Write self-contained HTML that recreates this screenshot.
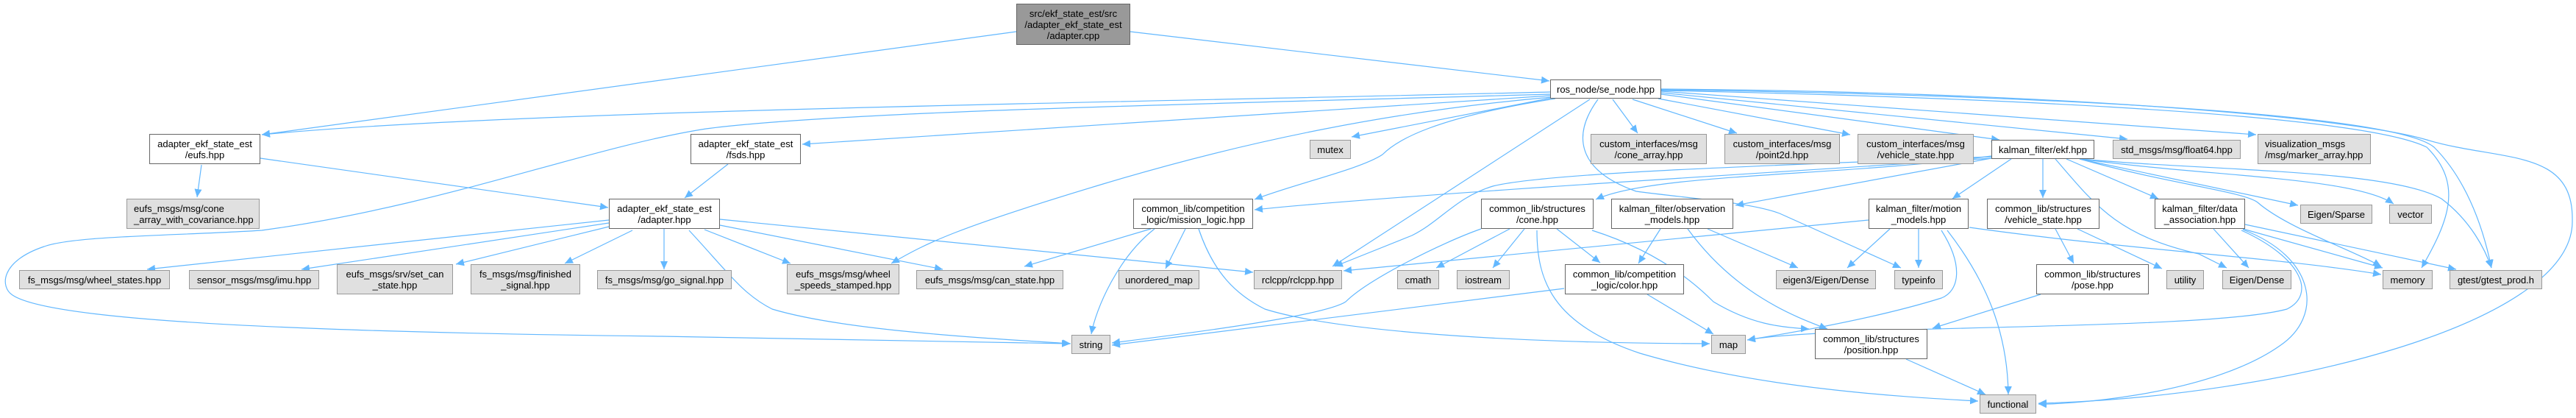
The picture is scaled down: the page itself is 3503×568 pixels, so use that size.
<!DOCTYPE html>
<html><head><meta charset="utf-8"><style>
body{margin:0;width:3503px;height:568px;background:#fff;position:relative;overflow:hidden;font-family:"Liberation Sans",sans-serif;}
.n{position:absolute;box-sizing:border-box;border:1px solid #999;background:#e0e0e0;font-size:13px;line-height:15px;color:#000;display:flex;flex-direction:column;justify-content:center;align-items:center;text-align:center;white-space:nowrap;}
.w{background:#fff;border-color:#666;}
.l{align-items:flex-start;padding-left:9px;text-align:left;}
svg{position:absolute;left:0;top:0;}
</style></head><body>
<svg width="3503" height="568" viewBox="0 0 3503 568">
<defs><marker id="a" markerUnits="userSpaceOnUse" markerWidth="12" markerHeight="10" refX="11" refY="5" orient="auto"><path d="M0,0 L11,5 L0,10 z" fill="#63b8ff"/></marker></defs>
<g fill="none" stroke="#63b8ff" stroke-width="1.2" marker-end="url(#a)">
<path d="M1382,43 L356,183"/>
<path d="M1537,43 L2107,110"/>
<path d="M2108,125 C1500,140 700,150 356,183"/>
<path d="M2108,128 C1700,140 1150,150 960,175 C800,200 600,280 356,313 C250,320 100,320 60,335 C0,355 0,390 17,401 C60,430 300,450 900,457 L1455,467"/>
<path d="M2108,130 L1091,196"/>
<path d="M2110,132 C1900,150 1700,190 1500,250 S1260,330 1212,358"/>
<path d="M2110,133 L1838,186"/>
<path d="M2115,134 C1950,160 1900,190 1880,210 C1850,230 1760,250 1706,271"/>
<path d="M2162,135 L1812,362"/>
<path d="M2193,135 L2227,181"/>
<path d="M2220,135 L2362,181"/>
<path d="M2255,134 L2516,183"/>
<path d="M2259,128 L2719,190"/>
<path d="M2259,126 L2893,189"/>
<path d="M2259,124 L3068,183"/>
<path d="M2173,135 C2140,180 2140,230 2225,260 C2300,270 2380,275 2420,290 L2585,364"/>
<path d="M2259,123 C2600,130 3200,150 3300,200 C3350,250 3330,300 3293,364"/>
<path d="M2259,122 C2700,128 3250,150 3310,200 C3350,240 3375,300 3388,364"/>
<path d="M2259,121 C2800,125 3200,160 3300,190 C3400,220 3500,200 3498,300 C3500,440 3100,540 2772,548"/>
<path d="M2708,215 C2400,235 1900,265 1706,285"/>
<path d="M2708,212 C2500,240 2250,235 2170,271"/>
<path d="M2708,213 C2400,225 2100,235 2030,253 C1980,268 1960,300 1920,320 L1815,362"/>
<path d="M2708,215 L2360,279"/>
<path d="M2735,216 L2655,270"/>
<path d="M2778,216 L2778,269"/>
<path d="M2795,216 C2850,280 2880,320 2990,345 L3028,364"/>
<path d="M2810,216 L2935,270"/>
<path d="M2828,216 L3125,279"/>
<path d="M2830,216 C3000,240 3200,240 3255,277"/>
<path d="M2830,216 C3000,232 3250,230 3320,270 C3360,300 3380,340 3388,364"/>
<path d="M2828,216 C2950,250 3050,260 3070,275 C3110,310 3200,340 3238,362"/>
<path d="M2541,299 L1827,368"/>
<path d="M2570,311 L2512,364"/>
<path d="M2609,311 L2609,364"/>
<path d="M2640,313 C2670,360 2665,395 2640,405 C2560,430 2450,450 2376,462"/>
<path d="M2648,313 C2700,380 2730,450 2731,536"/>
<path d="M2678,309 C2900,340 3100,350 3238,373"/>
<path d="M3010,311 L3058,364"/>
<path d="M3050,311 L3240,364"/>
<path d="M3053,305 L3340,366"/>
<path d="M3050,312 C3150,350 3160,430 3100,470 C3000,540 2800,550 2772,549"/>
<path d="M3048,313 C3130,350 3150,400 3110,420 C3000,450 2500,440 2376,462"/>
<path d="M2795,311 L2820,358"/>
<path d="M2825,311 L2940,365"/>
<path d="M2775,400 L2628,446"/>
<path d="M2592,488 L2700,536"/>
<path d="M2258,311 L2228,358"/>
<path d="M2295,311 C2360,400 2440,430 2485,447"/>
<path d="M2322,311 L2445,364"/>
<path d="M2014,311 C1960,330 1860,380 1830,410 C1800,430 1600,455 1512,466"/>
<path d="M2053,311 L1953,364"/>
<path d="M2073,311 L2030,364"/>
<path d="M2117,311 L2176,357"/>
<path d="M2165,313 C2250,340 2300,380 2330,410 C2380,440 2420,445 2460,447"/>
<path d="M2090,313 C2090,380 2110,440 2230,480 C2400,530 2600,540 2690,545"/>
<path d="M2127,392 L1512,469"/>
<path d="M2240,400 L2330,454"/>
<path d="M1565,311 L1393,362"/>
<path d="M1612,311 L1585,365"/>
<path d="M1570,311 C1520,350 1490,420 1484,454"/>
<path d="M1630,311 C1650,370 1680,400 1720,420 C1800,445 2000,466 2325,467"/>
<path d="M828,299 L200,366"/>
<path d="M828,303 L410,366"/>
<path d="M828,308 L620,359"/>
<path d="M860,313 L768,358"/>
<path d="M903,311 L903,366"/>
<path d="M958,312 L1075,358"/>
<path d="M979,306 L1282,366"/>
<path d="M979,298 L1704,370"/>
<path d="M937,313 C990,370 1010,400 1050,420 C1150,450 1350,460 1456,467"/>
<path d="M274,224 L268,268"/>
<path d="M354,215 L827,282"/>
<path d="M990,223 L931,269"/>
</g></svg>

<div class="n" style="left:1382px;top:5px;width:155px;height:56px;background:#999;border-color:#666">src/ekf_state_est/src<br>/adapter_ekf_state_est<br>/adapter.cpp</div>
<div class="n w" style="left:2108px;top:108px;width:151px;height:26px">ros_node/se_node.hpp</div>
<div class="n w" style="left:203px;top:182px;width:151px;height:41px">adapter_ekf_state_est<br>/eufs.hpp</div>
<div class="n w" style="left:939px;top:182px;width:150px;height:41px">adapter_ekf_state_est<br>/fsds.hpp</div>
<div class="n" style="left:1781px;top:190px;width:56px;height:26px">mutex</div>
<div class="n" style="left:2163px;top:182px;width:158px;height:41px">custom_interfaces/msg<br>/cone_array.hpp</div>
<div class="n" style="left:2345px;top:182px;width:157px;height:41px">custom_interfaces/msg<br>/point2d.hpp</div>
<div class="n" style="left:2526px;top:182px;width:158px;height:41px">custom_interfaces/msg<br>/vehicle_state.hpp</div>
<div class="n w" style="left:2708px;top:190px;width:140px;height:26px">kalman_filter/ekf.hpp</div>
<div class="n" style="left:2873px;top:190px;width:174px;height:26px">std_msgs/msg/float64.hpp</div>
<div class="n l" style="left:3070px;top:182px;width:154px;height:41px">visualization_msgs<br>/msg/marker_array.hpp</div>
<div class="n l" style="left:172px;top:270px;width:181px;height:41px">eufs_msgs/msg/cone<br>_array_with_covariance.hpp</div>
<div class="n w" style="left:828px;top:270px;width:151px;height:41px">adapter_ekf_state_est<br>/adapter.hpp</div>
<div class="n w" style="left:1541px;top:270px;width:163px;height:41px">common_lib/competition<br>_logic/mission_logic.hpp</div>
<div class="n w" style="left:2014px;top:270px;width:153px;height:41px">common_lib/structures<br>/cone.hpp</div>
<div class="n w" style="left:2191px;top:270px;width:166px;height:41px">kalman_filter/observation<br>_models.hpp</div>
<div class="n w" style="left:2541px;top:270px;width:136px;height:41px">kalman_filter/motion<br>_models.hpp</div>
<div class="n w" style="left:2702px;top:270px;width:153px;height:41px">common_lib/structures<br>/vehicle_state.hpp</div>
<div class="n w" style="left:2930px;top:270px;width:123px;height:41px">kalman_filter/data<br>_association.hpp</div>
<div class="n" style="left:3128px;top:278px;width:98px;height:26px">Eigen/Sparse</div>
<div class="n" style="left:3249px;top:278px;width:58px;height:26px">vector</div>
<div class="n" style="left:26px;top:367px;width:205px;height:26px">fs_msgs/msg/wheel_states.hpp</div>
<div class="n" style="left:257px;top:367px;width:177px;height:26px">sensor_msgs/msg/imu.hpp</div>
<div class="n" style="left:458px;top:359px;width:158px;height:41px">eufs_msgs/srv/set_can<br>_state.hpp</div>
<div class="n" style="left:640px;top:359px;width:149px;height:41px">fs_msgs/msg/finished<br>_signal.hpp</div>
<div class="n" style="left:812px;top:367px;width:183px;height:26px">fs_msgs/msg/go_signal.hpp</div>
<div class="n" style="left:1070px;top:359px;width:153px;height:41px">eufs_msgs/msg/wheel<br>_speeds_stamped.hpp</div>
<div class="n" style="left:1246px;top:367px;width:200px;height:26px">eufs_msgs/msg/can_state.hpp</div>
<div class="n" style="left:1521px;top:367px;width:110px;height:26px">unordered_map</div>
<div class="n" style="left:1705px;top:367px;width:120px;height:26px">rclcpp/rclcpp.hpp</div>
<div class="n" style="left:1900px;top:367px;width:57px;height:26px">cmath</div>
<div class="n" style="left:1981px;top:367px;width:72px;height:26px">iostream</div>
<div class="n w" style="left:2128px;top:359px;width:162px;height:41px">common_lib/competition<br>_logic/color.hpp</div>
<div class="n" style="left:2415px;top:367px;width:136px;height:26px">eigen3/Eigen/Dense</div>
<div class="n" style="left:2576px;top:367px;width:66px;height:26px">typeinfo</div>
<div class="n w" style="left:2769px;top:359px;width:153px;height:41px">common_lib/structures<br>/pose.hpp</div>
<div class="n" style="left:2946px;top:367px;width:51px;height:26px">utility</div>
<div class="n" style="left:3022px;top:367px;width:94px;height:26px">Eigen/Dense</div>
<div class="n" style="left:3240px;top:367px;width:68px;height:26px">memory</div>
<div class="n" style="left:3331px;top:367px;width:126px;height:26px">gtest/gtest_prod.h</div>
<div class="n" style="left:1457px;top:455px;width:53px;height:26px">string</div>
<div class="n" style="left:2327px;top:455px;width:47px;height:26px">map</div>
<div class="n w" style="left:2468px;top:447px;width:153px;height:41px">common_lib/structures<br>/position.hpp</div>
<div class="n" style="left:2692px;top:536px;width:77px;height:26px">functional</div>
</body></html>
